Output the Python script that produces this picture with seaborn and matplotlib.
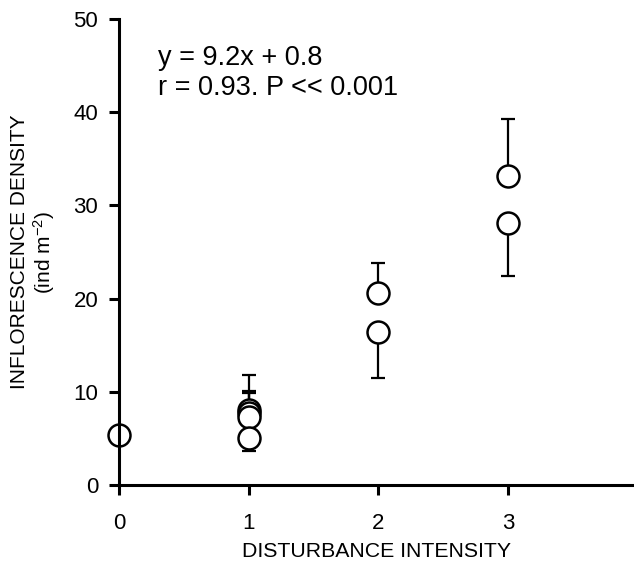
import matplotlib
matplotlib.use("Agg")
import matplotlib.pyplot as plt
import seaborn as sns
import pandas as pd

# Data
intensity = [0, 1, 1, 1, 1, 2, 2, 3, 3]
density = [5.4, 8.1, 7.7, 7.3, 5.0, 20.6, 16.4, 33.2, 28.1]
err_up = [0, 3.7, 2.4, 2.6, 0, 3.2, 0, 6.1, 0]
err_down = [0, 0, 0, 0, 1.3, 0, 4.9, 0, 5.7]
x_ticks = [0, 1, 2, 3]
y_ticks = [0, 10, 20, 30, 40, 50]
equation = "y = 9.2x + 0.8"
stats_text = "r = 0.93. P << 0.001"

sns.set_style("ticks")
plt.rcParams['font.family'] = ['Liberation Sans', 'DejaVu Sans']
plt.rcParams['mathtext.fontset'] = 'custom'
plt.rcParams['mathtext.rm'] = 'Liberation Sans'
plt.rcParams['mathtext.it'] = 'Liberation Sans:italic'
plt.rcParams['mathtext.bf'] = 'Liberation Sans:bold'
plt.rcParams['text.color'] = 'black'
plt.rcParams['axes.labelcolor'] = 'black'
plt.rcParams['xtick.color'] = 'black'
plt.rcParams['ytick.color'] = 'black'

df = pd.DataFrame({"x": intensity, "y": density})

fig = plt.figure(figsize=(6.34, 5.68), dpi=100)
ax = fig.add_axes([119/634, 1 - 485/568, 1 - 119/634, (485 - 19)/568])

ax.errorbar(intensity, density, yerr=[err_down, err_up], fmt='none',
            ecolor='black', elinewidth=1.6, capsize=5, capthick=1.6, zorder=2.1)
sns.scatterplot(data=df, x="x", y="y", ax=ax, marker='o', s=250,
                facecolor='white', edgecolor='black', linewidth=1.8,
                zorder=2.2, legend=False, clip_on=False)

ax.set_xlim(0, 3.97)
ax.set_ylim(0, 50)
ax.set_xticks(x_ticks)
ax.set_yticks(y_ticks)
ax.set_xticklabels([str(t) for t in x_ticks])
ax.set_yticklabels([str(t) for t in y_ticks])

for side in ['top', 'right']:
    ax.spines[side].set_visible(False)
for side in ['left', 'bottom']:
    ax.spines[side].set_linewidth(2.2)
    ax.spines[side].set_color('black')
    ax.spines[side].set_zorder(3)

ax.tick_params(axis='both', direction='out', length=7, width=2.2, color='black',
               labelsize=16, labelcolor='black')
ax.tick_params(axis='x', pad=13)
ax.tick_params(axis='y', pad=8)

ax.set_xlabel("DISTURBANCE INTENSITY", fontsize=15.3, labelpad=6)
ax.set_ylabel("INFLORESCENCE DENSITY\n(ind m$^{-2}$)", fontsize=15,
              linespacing=1.1)
ax.yaxis.set_label_coords(-0.121, 0.5)

ax.text(0.0757, 0.944, equation + "\n" + stats_text, transform=ax.transAxes,
        ha='left', va='top', fontsize=19.5, linespacing=1.2)

ax.set_facecolor('white')
fig.patch.set_facecolor('white')
fig.savefig("out.png", dpi=100)
